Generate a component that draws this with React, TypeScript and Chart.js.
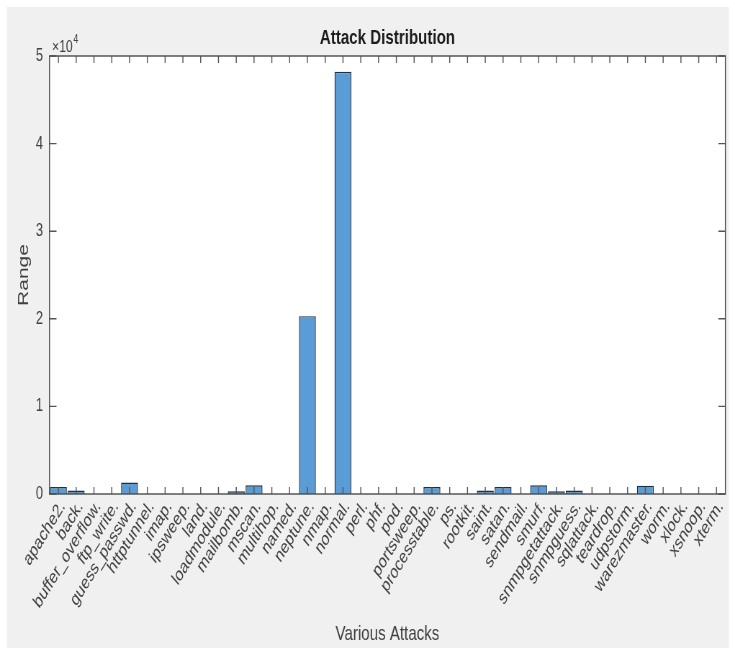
import React, { useEffect, useRef } from 'react';
import { Chart, registerables } from 'chart.js';

Chart.register(...registerables);

// ---- data ----
const categories = [
  'apache2.', 'back.', 'buffer_overflow.', 'ftp_write.', 'guess_passwd.', 'httptunnel.',
  'imap.', 'ipsweep.', 'land.', 'loadmodule.', 'mailbomb.', 'mscan.', 'multihop.',
  'named.', 'neptune.', 'nmap.', 'normal.', 'perl.', 'phf.', 'pod.', 'portsweep.',
  'processtable.', 'ps.', 'rootkit.', 'saint.', 'satan.', 'sendmail.', 'smurf.',
  'snmpgetattack.', 'snmpguess.', 'sqlattack.', 'teardrop.', 'udpstorm.',
  'warezmaster.', 'worm.', 'xlock.', 'xsnoop.', 'xterm.',
];
const counts = [
  800, 400, 0, 0, 1300, 0,
  0, 0, 0, 0, 300, 1000, 0,
  0, 20300, 0, 48200, 0, 0, 0, 0,
  800, 0, 0, 400, 800, 0, 1000,
  300, 400, 0, 0, 0,
  950, 0, 0, 0, 0,
];
const yTickLabels = ['0', '1', '2', '3', '4', '5'];
const yMax = 50000;
const yStep = 10000;
const titleText = 'Attack Distribution';
const xTitle = 'Various Attacks';
const yTitle = 'Range';
const exponentBase = '\u00d710';
const exponentPower = '4';

// ---- geometry (the reference is horizontally compressed) ----
const SX = 0.72;
const LW = Math.round(735 / SX);
const H = 649;
const v = (x: number) => x / SX;
const FONT = '"Liberation Sans", Arial, Helvetica, sans-serif';
const TEXT = '#404040';

const framePlugin = {
  id: 'frame',
  beforeDraw(chart: any) {
    const { ctx, chartArea: a } = chart;
    ctx.save();
    ctx.fillStyle = '#ffffff';
    ctx.fillRect(0, 0, chart.width, chart.height);
    ctx.fillStyle = '#f0f0f0';
    ctx.fillRect(v(7), 7, v(729) - v(7), 641);
    ctx.fillStyle = '#ffffff';
    ctx.fillRect(a.left, a.top, a.right - a.left, a.bottom - a.top);
    ctx.restore();
  },
  afterDatasetsDraw(chart: any) {
    const { ctx, chartArea: a, scales } = chart;
    const xs = scales.x;
    const ys = scales.y;
    ctx.save();
    ctx.strokeStyle = '#555555';
    ctx.lineWidth = 1.4;
    ctx.beginPath();
    xs.ticks.forEach((_: any, i: number) => {
      const px = xs.getPixelForTick(i);
      ctx.moveTo(px, a.bottom);
      ctx.lineTo(px, a.bottom - 7);
      ctx.moveTo(px, a.top);
      ctx.lineTo(px, a.top + 7);
    });
    ys.ticks.forEach((_: any, i: number) => {
      const py = ys.getPixelForTick(i);
      ctx.moveTo(a.left, py);
      ctx.lineTo(a.left + v(7), py);
      ctx.moveTo(a.right, py);
      ctx.lineTo(a.right - v(7), py);
    });
    ctx.stroke();
    ctx.strokeStyle = '#4a4a4a';
    ctx.lineWidth = 1.4;
    ctx.strokeRect(a.left, a.top, a.right - a.left, a.bottom - a.top);

    // title
    ctx.fillStyle = '#1c1c1c';
    ctx.font = `bold 21px ${FONT}`;
    ctx.textAlign = 'center';
    ctx.textBaseline = 'alphabetic';
    ctx.fillText(titleText, (a.left + a.right) / 2, 44);

    // x title
    ctx.fillStyle = TEXT;
    ctx.font = `21px ${FONT}`;
    ctx.fillText(xTitle, (a.left + a.right) / 2, 640);

    // y title
    ctx.save();
    ctx.translate(v(24), (a.top + a.bottom) / 2);
    ctx.rotate(-Math.PI / 2);
    ctx.textBaseline = 'middle';
    ctx.fillText(yTitle, 0, 0);
    ctx.restore();

    // exponent
    ctx.textAlign = 'left';
    ctx.font = `17px ${FONT}`;
    const bx = v(52);
    ctx.fillText(exponentBase, bx, 52);
    const w = ctx.measureText(exponentBase).width;
    ctx.font = `12px ${FONT}`;
    ctx.fillText(exponentPower, bx + w + 1, 43);
    ctx.restore();
  },
};

export default function App() {
  const ref = useRef<HTMLCanvasElement | null>(null);

  useEffect(() => {
    if (!ref.current) return;
    const chart = new Chart(ref.current, {
      type: 'bar',
      data: {
        labels: categories,
        datasets: [
          {
            data: counts,
            backgroundColor: '#5a9dd6',
            borderColor: '#1f2f40',
            borderWidth: 1.4,
            barPercentage: 0.95,
            categoryPercentage: 1,
          },
        ],
      },
      options: {
        responsive: false,
        animation: false,
        devicePixelRatio: 1,
        events: [],
        layout: { padding: { left: 0, right: LW - v(725.5), top: 56, bottom: 0 } },
        plugins: {
          legend: { display: false },
          title: { display: false },
          tooltip: { enabled: false },
        },
        scales: {
          x: {
            grid: { display: false, drawTicks: false },
            border: { display: false },
            ticks: {
              autoSkip: false,
              minRotation: 50,
              maxRotation: 50,
              padding: 2,
              labelOffset: 6,
              color: TEXT,
              font: { family: FONT, size: 19 },
            },
            afterFit: (s: any) => {
              s.height = H - 494;
            },
          },
          y: {
            min: 0,
            max: yMax,
            grid: { display: false, drawTicks: false },
            border: { display: false },
            ticks: {
              stepSize: yStep,
              padding: 9,
              color: TEXT,
              font: { family: FONT, size: 18 },
              callback: (val: any) => yTickLabels[Math.round(Number(val) / yStep)],
            },
            afterFit: (s: any) => {
              s.width = v(49.5);
            },
          },
        },
      },
      plugins: [framePlugin],
    });
    return () => chart.destroy();
  }, []);

  return (
    <div style={{ position: 'fixed', left: 0, top: 0, width: 735, height: H, background: '#ffffff' }}>
      <canvas
        ref={ref}
        width={LW}
        height={H}
        style={{ width: '735px', height: `${H}px`, display: 'block' }}
      />
    </div>
  );
}
